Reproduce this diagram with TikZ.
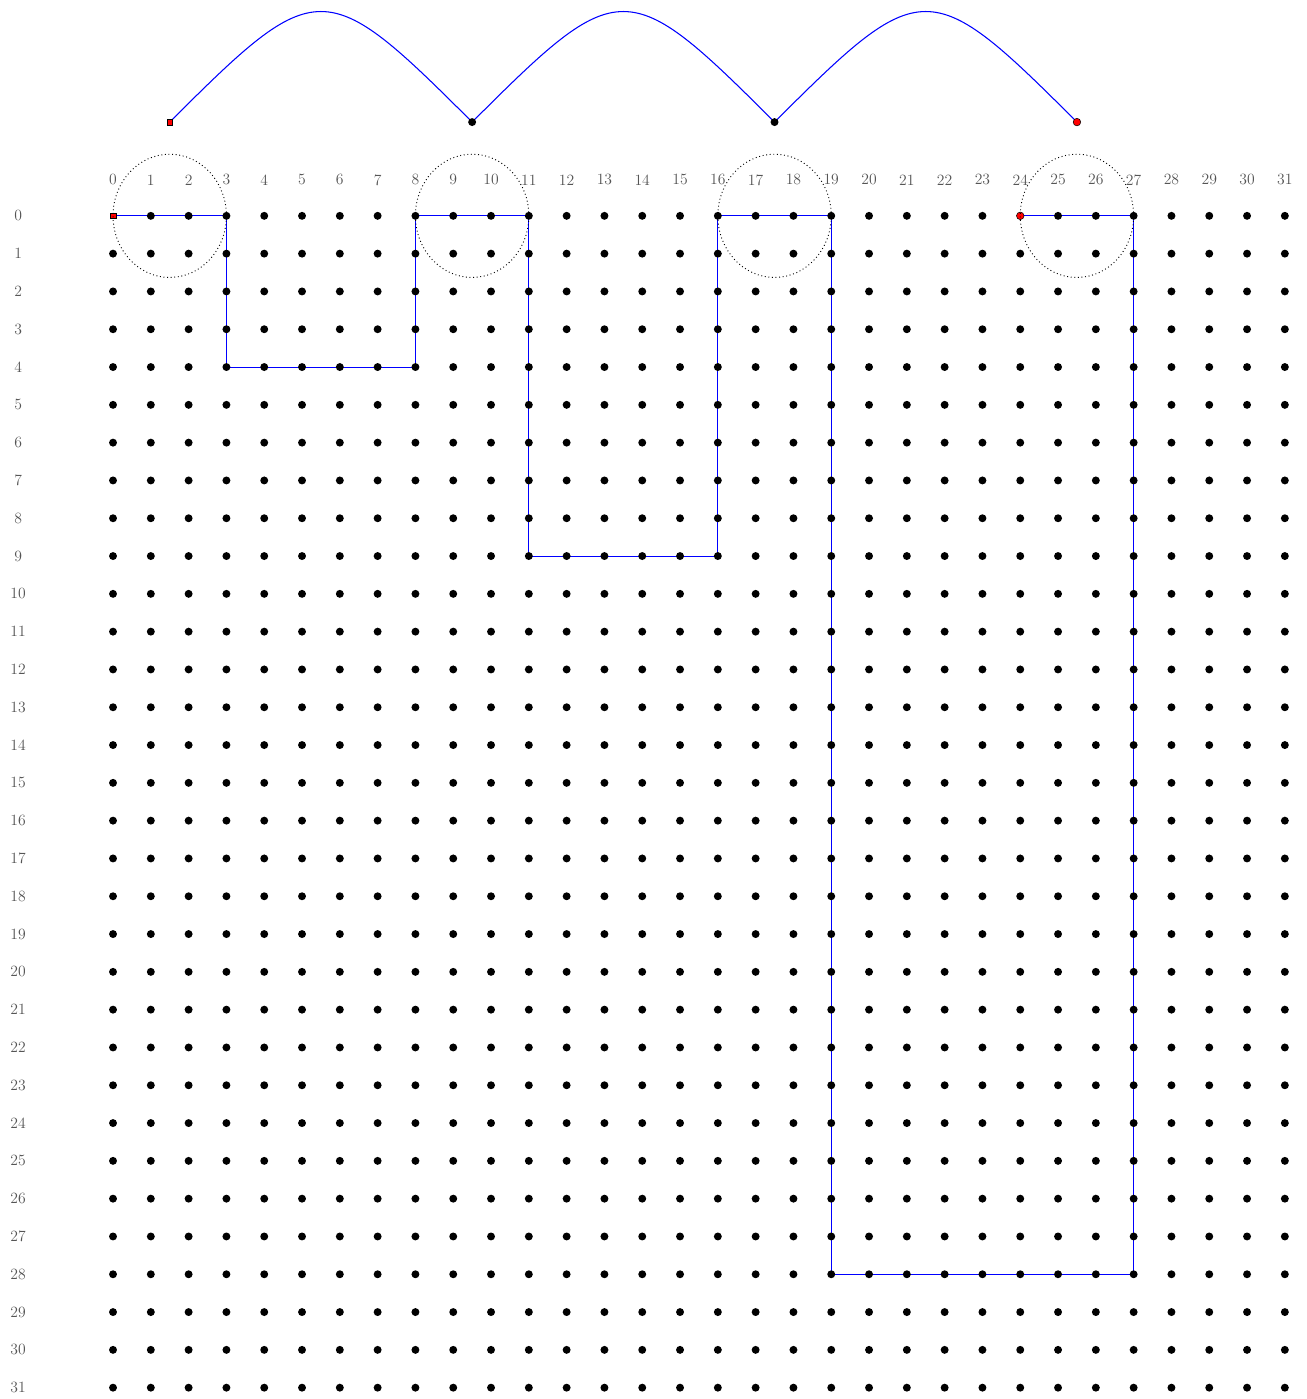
\documentclass[tikz,border=0pt]{standalone}
\definecolor{Route}{HTML}{0000FF}
\definecolor{Label}{HTML}{555555}

\begin{document}
\begin{tikzpicture}[x=1cm,y=1cm,
  dot/.style={circle,fill=black,inner sep=0pt,minimum size=0.21cm},
  startbox/.style={rectangle,fill=red,draw=black,line width=0.4pt,inner sep=0pt,minimum size=0.15cm},
  endball/.style={circle,fill=red,draw=black,line width=0.4pt,inner sep=0pt,minimum size=0.2cm},
  lbl/.style={font=\fontsize{11.8}{14}\selectfont,text=Label},
  route/.style={draw=Route,line width=0.8pt},
  zone/.style={draw=black,dotted,line width=0.7pt}]
\useasboundingbox (-2.99,-31.30) rectangle (31.56,5.71);
% column and row numbers
\foreach \k in {0,...,31} {
  \node[lbl] (c\k) at (\k,0.95) {\k};
  \node[lbl] (r\k) at (-2.51,-\k) {\k};
}
% lattice points and the blocks above them
\foreach \i in {0,...,31}
  \foreach \j in {0,...,31}
    \coordinate (g\i-\j) at (\i,-\j);
\coordinate (b1) at (1.5,2.48);
\coordinate (b2) at (9.5,2.48);
\coordinate (b3) at (17.5,2.48);
\coordinate (b4) at (25.5,2.48);
% the route
\draw[route] (g0-0) -- (g3-0) -- (g3-4) -- (g8-4) -- (g8-0) -- (g11-0)
  -- (g11-9) -- (g16-9) -- (g16-0) -- (g19-0) -- (g19-28) -- (g27-28)
  -- (g27-0) -- (g24-0);
\draw[route] (b1) .. controls +(3.9,3.9) and +(-3.9,3.9) .. (b2);
\draw[route] (b2) .. controls +(3.9,3.9) and +(-3.9,3.9) .. (b3);
\draw[route] (b3) .. controls +(3.9,3.9) and +(-3.9,3.9) .. (b4);
% the dots
\foreach \i in {0,...,31}
  \foreach \j in {0,...,31} {
    \def\kind{dot}
    \ifnum\j=0 \ifnum\i=0 \def\kind{startbox}\fi\ifnum\i=24 \def\kind{endball}\fi\fi
    \node[\kind] (p\i-\j) at (g\i-\j) {};
  }
\node[startbox] (a1) at (b1) {};
\node[dot] (a2) at (b2) {};
\node[dot] (a3) at (b3) {};
\node[endball] (a4) at (b4) {};
% dotted zones
\draw[zone] (a1 |- p0-0) ellipse [x radius=1.5,y radius=1.63];
\draw[zone] (a2 |- p0-0) ellipse [x radius=1.5,y radius=1.63];
\draw[zone] (a3 |- p0-0) ellipse [x radius=1.5,y radius=1.63];
\draw[zone] (a4 |- p0-0) ellipse [x radius=1.5,y radius=1.63];
\end{tikzpicture}
\end{document}
